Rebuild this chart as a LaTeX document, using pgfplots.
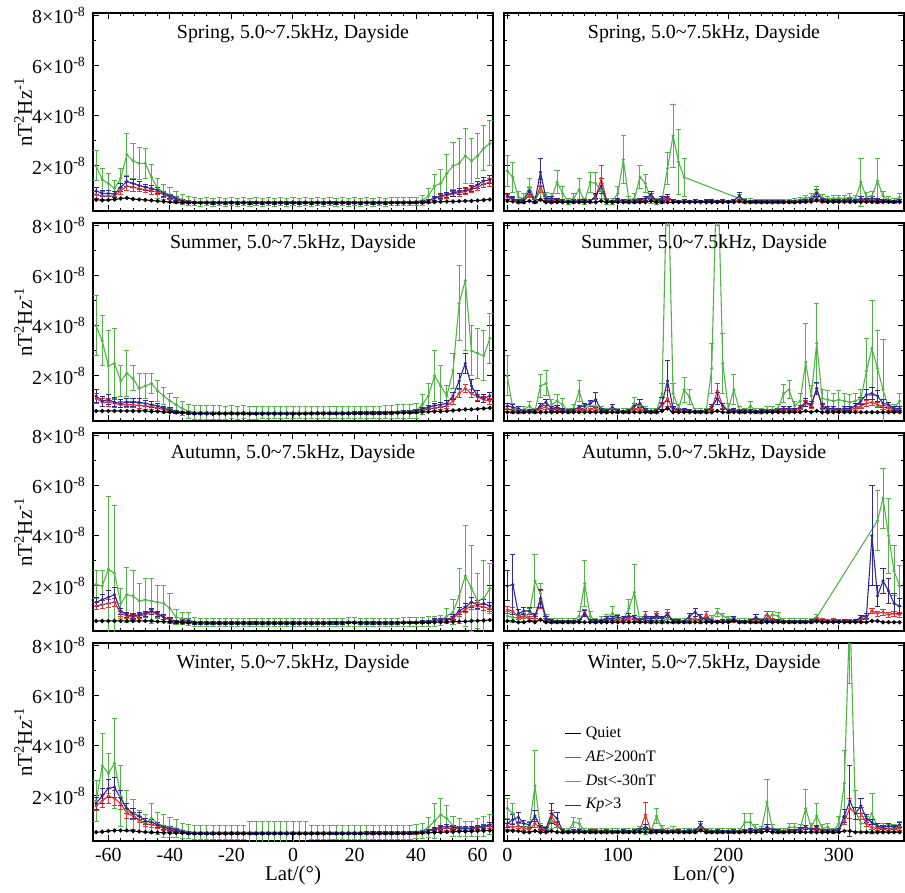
\documentclass[border=0pt]{standalone}
\usepackage{fontspec}
\setmainfont{Liberation Serif}
\usepackage{pgfplots}
\usepackage{pgfplotstable}
\pgfplotsset{compat=1.18}

\definecolor{cq}{RGB}{0,0,0}
\definecolor{ca}{RGB}{232,48,48}
\definecolor{cd}{RGB}{80,180,70}
\definecolor{ck}{RGB}{48,40,150}

% columns: x, Quiet, AE, Dst, Kp, err AE, err Dst, err Kp  (units of 1e-8 nT^2/Hz)
\pgfplotstableread{
x q a d k ea ed ek
-64 0.65 0.85 2.00 1.00 0.15 0.60 0.15
-62 0.63 0.80 1.45 0.90 0.12 0.45 0.12
-60 0.64 0.80 1.30 0.90 0.12 0.40 0.12
-58 0.66 0.80 1.10 0.88 0.12 0.30 0.12
-56 0.70 1.00 1.50 1.15 0.15 0.40 0.15
-54 0.72 1.20 2.45 1.38 0.18 0.85 0.18
-52 0.68 1.15 2.20 1.30 0.15 0.70 0.15
-50 0.66 1.10 2.10 1.22 0.12 0.65 0.14
-48 0.64 1.05 2.10 1.15 0.12 0.60 0.12
-46 0.62 1.00 1.55 1.10 0.12 0.50 0.12
-44 0.60 0.95 1.10 1.02 0.10 0.40 0.12
-42 0.58 0.85 0.95 0.90 0.10 0.30 0.10
-40 0.56 0.75 0.85 0.80 0.08 0.30 0.08
-38 0.55 0.65 0.75 0.70 0.07 0.25 0.07
-36 0.54 0.58 0.65 0.60 0.06 0.20 0.06
-34 0.53 0.55 0.60 0.56 0.05 0.17 0.05
-32 0.53 0.54 0.57 0.54 0.05 0.16 0.05
-30 0.52 0.54 0.56 0.54 0.05 0.16 0.05
-28 0.53 0.54 0.57 0.54 0.05 0.16 0.05
-26 0.52 0.53 0.56 0.53 0.05 0.16 0.05
-24 0.53 0.54 0.57 0.54 0.05 0.16 0.05
-22 0.52 0.53 0.56 0.53 0.05 0.16 0.05
-20 0.53 0.54 0.57 0.54 0.05 0.16 0.05
-18 0.52 0.53 0.56 0.53 0.05 0.16 0.05
-16 0.53 0.54 0.57 0.54 0.05 0.16 0.05
-14 0.52 0.53 0.56 0.53 0.05 0.16 0.05
-12 0.53 0.54 0.57 0.54 0.05 0.16 0.05
-10 0.52 0.53 0.56 0.53 0.05 0.16 0.05
-8 0.53 0.54 0.57 0.54 0.05 0.16 0.05
-6 0.52 0.53 0.56 0.53 0.05 0.16 0.05
-4 0.53 0.54 0.57 0.54 0.05 0.16 0.05
-2 0.52 0.53 0.56 0.53 0.05 0.16 0.05
0 0.53 0.54 0.57 0.54 0.05 0.16 0.05
2 0.52 0.53 0.56 0.53 0.05 0.16 0.05
4 0.53 0.54 0.57 0.54 0.05 0.16 0.05
6 0.52 0.53 0.56 0.53 0.05 0.16 0.05
8 0.53 0.54 0.57 0.54 0.05 0.16 0.05
10 0.52 0.53 0.56 0.53 0.05 0.16 0.05
12 0.53 0.54 0.57 0.54 0.05 0.16 0.05
14 0.52 0.53 0.56 0.53 0.05 0.16 0.05
16 0.53 0.54 0.57 0.54 0.05 0.16 0.05
18 0.52 0.53 0.56 0.53 0.05 0.16 0.05
20 0.53 0.54 0.57 0.54 0.05 0.16 0.05
22 0.52 0.53 0.56 0.53 0.05 0.16 0.05
24 0.53 0.54 0.57 0.54 0.05 0.16 0.05
26 0.52 0.53 0.56 0.53 0.05 0.16 0.05
28 0.53 0.54 0.57 0.54 0.05 0.16 0.05
30 0.52 0.53 0.56 0.53 0.05 0.16 0.05
32 0.53 0.54 0.57 0.54 0.05 0.16 0.05
34 0.53 0.54 0.57 0.54 0.05 0.16 0.05
36 0.53 0.54 0.57 0.54 0.05 0.16 0.05
38 0.53 0.55 0.58 0.55 0.05 0.16 0.05
40 0.54 0.55 0.58 0.55 0.05 0.16 0.05
42 0.54 0.56 0.62 0.57 0.05 0.20 0.06
44 0.55 0.60 0.80 0.62 0.06 0.30 0.06
46 0.56 0.70 1.20 0.72 0.08 0.45 0.08
48 0.57 0.78 1.30 0.80 0.10 0.55 0.10
50 0.58 0.82 1.70 0.86 0.10 0.75 0.10
52 0.58 0.88 2.00 0.92 0.10 0.95 0.12
54 0.59 0.92 2.10 0.98 0.12 1.00 0.12
56 0.60 0.98 2.40 1.02 0.12 1.10 0.12
58 0.60 1.05 2.20 1.10 0.12 0.90 0.12
60 0.62 1.15 2.40 1.25 0.12 0.90 0.14
62 0.64 1.28 2.70 1.40 0.14 0.90 0.14
64 0.66 1.35 2.90 1.45 0.15 0.90 0.15
}\SpL

\pgfplotstableread{
x q a d k ea ed ek
-64 0.60 1.10 4.00 1.20 0.20 1.20 0.25
-62 0.60 0.95 3.40 1.00 0.15 1.00 0.20
-60 0.60 0.95 2.40 1.05 0.15 1.40 0.20
-58 0.60 0.90 2.50 0.95 0.15 1.40 0.18
-56 0.60 0.85 1.80 0.90 0.12 0.60 0.15
-54 0.60 0.85 2.10 0.95 0.12 0.90 0.15
-52 0.60 0.85 1.90 0.95 0.12 0.50 0.15
-50 0.60 0.82 1.50 0.95 0.12 0.60 0.14
-48 0.60 0.80 1.60 0.90 0.12 0.50 0.12
-46 0.58 0.78 1.70 0.85 0.10 0.40 0.12
-44 0.58 0.72 1.40 0.80 0.10 0.40 0.10
-42 0.56 0.65 1.20 0.70 0.08 0.35 0.10
-40 0.55 0.60 1.00 0.65 0.07 0.30 0.08
-38 0.54 0.56 0.85 0.58 0.06 0.30 0.06
-36 0.53 0.54 0.70 0.55 0.05 0.28 0.05
-34 0.52 0.52 0.60 0.52 0.05 0.28 0.05
-32 0.50 0.51 0.55 0.51 0.05 0.28 0.05
-30 0.50 0.51 0.56 0.51 0.05 0.28 0.05
-28 0.50 0.51 0.55 0.51 0.05 0.28 0.05
-26 0.49 0.50 0.55 0.50 0.05 0.28 0.05
-24 0.50 0.51 0.55 0.51 0.05 0.28 0.05
-22 0.49 0.50 0.54 0.50 0.05 0.26 0.05
-20 0.50 0.51 0.55 0.51 0.05 0.26 0.05
-18 0.49 0.50 0.54 0.50 0.05 0.26 0.05
-16 0.50 0.51 0.55 0.51 0.05 0.26 0.05
-14 0.49 0.50 0.54 0.50 0.05 0.26 0.05
-12 0.49 0.50 0.54 0.50 0.05 0.26 0.05
-10 0.49 0.50 0.54 0.50 0.05 0.24 0.05
-8 0.49 0.50 0.54 0.50 0.05 0.24 0.05
-6 0.49 0.50 0.54 0.50 0.05 0.24 0.05
-4 0.49 0.50 0.54 0.50 0.05 0.24 0.05
-2 0.49 0.50 0.54 0.50 0.05 0.24 0.05
0 0.49 0.50 0.54 0.50 0.05 0.24 0.05
2 0.49 0.50 0.54 0.50 0.05 0.24 0.05
4 0.49 0.50 0.54 0.50 0.05 0.24 0.05
6 0.50 0.51 0.54 0.51 0.05 0.24 0.05
8 0.50 0.51 0.55 0.51 0.05 0.24 0.05
10 0.50 0.51 0.55 0.51 0.05 0.24 0.05
12 0.50 0.51 0.55 0.51 0.05 0.24 0.05
14 0.50 0.51 0.55 0.51 0.05 0.24 0.05
16 0.50 0.51 0.55 0.51 0.05 0.24 0.05
18 0.50 0.51 0.55 0.51 0.05 0.24 0.05
20 0.51 0.52 0.55 0.52 0.05 0.24 0.05
22 0.51 0.52 0.55 0.52 0.05 0.24 0.05
24 0.51 0.52 0.56 0.52 0.05 0.24 0.05
26 0.51 0.52 0.56 0.52 0.05 0.24 0.05
28 0.51 0.52 0.56 0.53 0.05 0.24 0.05
30 0.52 0.53 0.56 0.53 0.05 0.26 0.05
32 0.52 0.53 0.57 0.54 0.05 0.26 0.05
34 0.52 0.54 0.58 0.55 0.05 0.28 0.05
36 0.53 0.55 0.58 0.56 0.05 0.28 0.05
38 0.53 0.55 0.60 0.56 0.06 0.28 0.06
40 0.55 0.58 0.60 0.60 0.06 0.30 0.06
42 0.56 0.62 0.85 0.68 0.07 0.40 0.07
44 0.57 0.68 1.20 0.75 0.08 0.50 0.08
46 0.58 0.72 2.00 0.82 0.10 1.00 0.10
48 0.58 0.75 1.60 0.85 0.10 0.80 0.10
50 0.60 0.80 1.20 0.90 0.10 0.40 0.12
52 0.62 1.00 2.20 1.20 0.12 0.70 0.15
54 0.64 1.30 4.90 1.80 0.15 1.50 0.30
56 0.66 1.50 5.80 2.50 0.15 2.80 0.40
58 0.66 1.30 3.00 1.60 0.15 1.00 0.25
60 0.68 1.15 2.90 1.20 0.12 1.00 0.20
62 0.70 1.05 2.80 1.10 0.12 1.00 0.15
64 0.72 1.00 3.50 1.20 0.12 1.00 0.15
}\SuL

\pgfplotstableread{
x q a d k ea ed ek
-64 0.60 1.20 2.05 1.35 0.15 0.55 0.18
-62 0.60 1.25 2.00 1.45 0.15 0.60 0.20
-60 0.60 1.30 2.66 1.55 0.15 2.90 0.25
-58 0.60 1.35 2.50 1.65 0.15 2.70 0.30
-56 0.60 0.90 1.30 1.00 0.10 0.60 0.12
-54 0.60 0.80 1.65 0.85 0.10 1.10 0.10
-52 0.60 0.75 1.60 0.80 0.10 1.00 0.10
-50 0.60 0.80 1.40 0.85 0.10 0.70 0.10
-48 0.60 0.85 1.45 0.90 0.10 0.85 0.10
-46 0.60 0.95 1.40 1.00 0.10 0.90 0.12
-44 0.58 0.85 1.35 0.90 0.10 0.65 0.10
-42 0.57 0.75 1.30 0.75 0.08 0.70 0.10
-40 0.56 0.65 1.10 0.65 0.07 0.60 0.08
-38 0.55 0.58 0.75 0.58 0.06 0.30 0.06
-36 0.54 0.56 0.70 0.58 0.05 0.25 0.08
-34 0.53 0.54 0.68 0.62 0.05 0.25 0.10
-32 0.52 0.53 0.55 0.53 0.05 0.18 0.05
-30 0.52 0.52 0.55 0.52 0.05 0.17 0.05
-28 0.52 0.53 0.55 0.53 0.05 0.17 0.05
-26 0.51 0.52 0.54 0.52 0.05 0.17 0.05
-24 0.52 0.53 0.55 0.53 0.05 0.17 0.05
-22 0.51 0.52 0.54 0.52 0.05 0.17 0.05
-20 0.52 0.53 0.55 0.53 0.05 0.17 0.05
-18 0.51 0.52 0.54 0.52 0.05 0.17 0.05
-16 0.52 0.53 0.55 0.53 0.05 0.17 0.05
-14 0.51 0.52 0.54 0.52 0.05 0.17 0.05
-12 0.52 0.53 0.55 0.53 0.05 0.17 0.05
-10 0.51 0.52 0.54 0.52 0.05 0.17 0.05
-8 0.52 0.53 0.55 0.53 0.05 0.17 0.05
-6 0.51 0.52 0.54 0.52 0.05 0.17 0.05
-4 0.52 0.53 0.55 0.53 0.05 0.17 0.05
-2 0.51 0.52 0.54 0.52 0.05 0.17 0.05
0 0.52 0.53 0.55 0.53 0.05 0.17 0.05
2 0.51 0.52 0.54 0.52 0.05 0.17 0.05
4 0.52 0.53 0.55 0.53 0.05 0.17 0.05
6 0.51 0.52 0.54 0.52 0.05 0.17 0.05
8 0.52 0.53 0.55 0.53 0.05 0.17 0.05
10 0.51 0.52 0.54 0.52 0.05 0.17 0.05
12 0.52 0.53 0.55 0.53 0.05 0.17 0.05
14 0.52 0.53 0.55 0.53 0.05 0.17 0.05
16 0.52 0.53 0.55 0.53 0.05 0.17 0.05
18 0.53 0.54 0.56 0.55 0.05 0.17 0.05
20 0.53 0.54 0.56 0.55 0.05 0.17 0.05
22 0.52 0.53 0.55 0.53 0.05 0.17 0.05
24 0.52 0.53 0.55 0.53 0.05 0.17 0.05
26 0.52 0.53 0.55 0.53 0.05 0.17 0.05
28 0.52 0.53 0.55 0.53 0.05 0.17 0.05
30 0.52 0.53 0.55 0.53 0.05 0.17 0.05
32 0.52 0.53 0.55 0.53 0.05 0.17 0.05
34 0.52 0.53 0.55 0.53 0.05 0.17 0.05
36 0.53 0.54 0.56 0.54 0.05 0.17 0.05
38 0.53 0.54 0.56 0.54 0.05 0.18 0.05
40 0.53 0.55 0.57 0.55 0.05 0.18 0.05
42 0.54 0.56 0.57 0.56 0.05 0.18 0.05
44 0.54 0.58 0.58 0.57 0.05 0.20 0.05
46 0.55 0.62 0.60 0.62 0.06 0.20 0.07
48 0.55 0.64 0.62 0.65 0.06 0.20 0.07
50 0.56 0.64 0.80 0.64 0.06 0.30 0.07
52 0.57 0.70 0.95 0.75 0.08 0.50 0.10
54 0.58 0.90 1.60 1.00 0.10 1.10 0.15
56 0.58 1.05 2.40 1.15 0.12 2.00 0.15
58 0.60 1.20 1.90 1.35 0.12 1.70 0.20
60 0.61 1.20 1.40 1.25 0.12 1.10 0.15
62 0.62 1.15 1.50 1.30 0.12 1.50 0.15
64 0.64 1.10 1.90 1.20 0.12 1.00 0.15
}\AuL

\pgfplotstableread{
x q a d k ea ed ek
-64 0.55 1.60 1.80 1.70 0.20 0.80 0.25
-62 0.57 1.80 3.20 2.00 0.25 1.30 0.30
-60 0.60 2.00 2.90 2.30 0.30 0.80 0.35
-58 0.62 1.90 3.30 2.35 0.30 1.80 0.40
-56 0.62 1.70 2.00 1.90 0.25 1.20 0.30
-54 0.62 1.30 1.40 1.50 0.20 0.80 0.20
-52 0.60 1.20 1.25 1.30 0.15 0.60 0.18
-50 0.58 1.05 1.00 1.20 0.12 0.40 0.15
-48 0.56 0.90 0.90 1.00 0.10 0.35 0.12
-46 0.55 0.85 1.10 0.95 0.10 0.60 0.10
-44 0.54 0.80 0.90 0.85 0.08 0.45 0.10
-42 0.53 0.70 0.80 0.75 0.07 0.45 0.08
-40 0.52 0.65 0.75 0.70 0.06 0.40 0.07
-38 0.52 0.60 0.70 0.65 0.05 0.35 0.06
-36 0.52 0.55 0.62 0.58 0.05 0.30 0.05
-34 0.51 0.52 0.57 0.53 0.05 0.28 0.05
-32 0.50 0.51 0.55 0.51 0.05 0.28 0.05
-30 0.50 0.51 0.55 0.51 0.05 0.28 0.05
-28 0.50 0.51 0.55 0.51 0.05 0.28 0.05
-26 0.50 0.51 0.55 0.51 0.05 0.28 0.05
-24 0.50 0.51 0.55 0.51 0.05 0.28 0.05
-22 0.50 0.51 0.55 0.51 0.05 0.28 0.05
-20 0.50 0.51 0.56 0.51 0.05 0.28 0.05
-18 0.50 0.51 0.55 0.51 0.05 0.28 0.05
-16 0.50 0.51 0.55 0.51 0.05 0.28 0.05
-14 0.50 0.51 0.55 0.51 0.05 0.45 0.05
-12 0.50 0.51 0.55 0.51 0.05 0.45 0.05
-10 0.50 0.51 0.55 0.51 0.05 0.45 0.05
-8 0.50 0.51 0.55 0.51 0.05 0.45 0.05
-6 0.50 0.51 0.55 0.51 0.05 0.45 0.05
-4 0.50 0.51 0.55 0.51 0.05 0.45 0.05
-2 0.50 0.51 0.55 0.51 0.05 0.45 0.05
0 0.50 0.51 0.55 0.51 0.05 0.45 0.05
2 0.50 0.51 0.55 0.51 0.05 0.45 0.05
4 0.50 0.51 0.55 0.51 0.05 0.45 0.05
6 0.50 0.51 0.55 0.51 0.05 0.28 0.05
8 0.50 0.51 0.55 0.51 0.05 0.28 0.05
10 0.50 0.51 0.55 0.51 0.05 0.28 0.05
12 0.50 0.51 0.55 0.51 0.05 0.28 0.05
14 0.50 0.51 0.55 0.51 0.05 0.28 0.05
16 0.50 0.51 0.55 0.51 0.05 0.28 0.05
18 0.50 0.51 0.55 0.51 0.05 0.28 0.05
20 0.50 0.51 0.55 0.51 0.05 0.28 0.05
22 0.50 0.51 0.55 0.51 0.05 0.28 0.05
24 0.51 0.52 0.55 0.52 0.05 0.28 0.05
26 0.51 0.52 0.55 0.52 0.05 0.28 0.05
28 0.51 0.52 0.55 0.52 0.05 0.28 0.05
30 0.51 0.52 0.55 0.52 0.05 0.28 0.05
32 0.51 0.52 0.55 0.52 0.05 0.28 0.05
34 0.51 0.52 0.55 0.52 0.05 0.28 0.05
36 0.51 0.52 0.56 0.52 0.05 0.28 0.05
38 0.51 0.52 0.56 0.53 0.05 0.28 0.05
40 0.52 0.53 0.57 0.54 0.05 0.28 0.05
42 0.52 0.55 0.60 0.56 0.05 0.30 0.05
44 0.53 0.60 0.75 0.62 0.06 0.40 0.06
46 0.54 0.65 1.00 0.68 0.07 0.70 0.07
48 0.55 0.70 1.25 0.75 0.08 0.65 0.08
50 0.56 0.72 1.10 0.78 0.08 0.50 0.08
52 0.57 0.70 0.80 0.75 0.08 0.40 0.08
54 0.58 0.68 0.75 0.72 0.07 0.35 0.08
56 0.58 0.68 0.70 0.70 0.07 0.30 0.07
58 0.59 0.70 0.70 0.72 0.07 0.30 0.07
60 0.60 0.72 0.75 0.75 0.07 0.35 0.08
62 0.61 0.75 0.80 0.78 0.08 0.40 0.08
64 0.62 0.80 0.85 0.85 0.08 0.40 0.08
}\WiL

\pgfplotstableread{
x q a d k ea ed ek
0 0.60 0.75 1.80 0.80 0.10 0.60 0.12
5 0.58 0.65 1.55 0.70 0.08 0.60 0.10
10 0.55 0.60 0.75 0.60 0.05 0.25 0.06
15 0.55 0.60 0.70 0.65 0.05 0.20 0.06
20 0.60 0.85 1.15 1.00 0.12 0.35 0.15
25 0.55 0.60 0.65 0.60 0.05 0.15 0.06
30 0.65 1.20 1.00 1.75 0.25 0.35 0.55
35 0.55 0.65 0.75 0.70 0.06 0.20 0.08
40 0.55 0.65 0.70 0.70 0.06 0.20 0.08
45 0.55 0.60 1.35 0.65 0.05 0.45 0.06
50 0.55 0.60 0.90 0.60 0.05 0.30 0.06
55 0.55 0.58 0.60 0.58 0.05 0.12 0.05
60 0.55 0.60 0.70 0.60 0.05 0.20 0.05
65 0.55 0.60 1.05 0.60 0.05 0.45 0.06
70 0.55 0.58 0.60 0.60 0.05 0.12 0.05
75 0.55 0.60 1.35 0.60 0.05 0.40 0.06
80 0.55 0.75 1.30 0.80 0.10 0.45 0.10
85 0.60 1.50 1.00 1.20 0.50 0.30 0.30
90 0.55 0.60 0.60 0.60 0.05 0.12 0.05
95 0.55 0.58 0.60 0.58 0.05 0.12 0.05
100 0.55 0.60 0.90 0.65 0.05 0.30 0.06
105 0.55 0.60 2.25 0.60 0.05 0.95 0.06
110 0.55 0.58 0.65 0.60 0.05 0.15 0.05
115 0.55 0.60 0.70 0.60 0.05 0.20 0.05
120 0.55 0.60 1.55 0.65 0.05 0.45 0.06
125 0.55 0.65 1.30 0.70 0.06 0.35 0.08
130 0.60 0.80 0.65 0.85 0.12 0.15 0.15
135 0.55 0.60 0.60 0.60 0.05 0.12 0.05
140 0.55 0.65 0.65 0.70 0.06 0.15 0.08
145 0.55 0.70 1.90 0.75 0.08 0.65 0.10
150 0.55 0.60 3.20 0.60 0.05 1.25 0.06
155 0.55 0.58 2.15 0.58 0.05 1.30 0.05
160 0.55 0.60 1.55 0.60 0.05 0.75 0.05
165 0.55 0.58 nan 0.58 0.05 0 0.05
170 0.55 0.60 nan 0.60 0.05 0 0.05
175 0.55 0.58 nan 0.58 0.05 0 0.05
180 0.55 0.58 nan 0.60 0.05 0 0.05
185 0.55 0.60 nan 0.62 0.05 0 0.05
190 0.55 0.58 nan 0.58 0.05 0 0.05
195 0.55 0.58 nan 0.60 0.05 0 0.05
200 0.55 0.58 nan 0.58 0.05 0 0.05
205 0.55 0.60 nan 0.62 0.05 0 0.05
210 0.58 0.65 0.70 0.80 0.08 0.15 0.15
215 0.55 0.58 0.60 0.60 0.05 0.10 0.05
220 0.55 0.58 0.60 0.58 0.05 0.10 0.05
225 0.55 0.58 0.58 0.58 0.04 0.08 0.04
230 0.55 0.57 0.58 0.57 0.04 0.08 0.04
235 0.55 0.58 0.60 0.58 0.04 0.08 0.04
240 0.55 0.57 0.58 0.57 0.04 0.08 0.04
245 0.55 0.58 0.60 0.58 0.04 0.08 0.04
250 0.55 0.57 0.58 0.57 0.04 0.08 0.04
255 0.55 0.58 0.60 0.58 0.04 0.08 0.04
260 0.55 0.58 0.62 0.58 0.04 0.10 0.04
265 0.55 0.58 0.65 0.60 0.05 0.10 0.05
270 0.56 0.60 0.72 0.62 0.05 0.12 0.05
275 0.57 0.62 0.75 0.66 0.05 0.15 0.06
280 0.62 0.68 1.00 0.92 0.08 0.20 0.15
285 0.58 0.62 0.72 0.66 0.06 0.15 0.06
290 0.56 0.60 0.68 0.62 0.05 0.12 0.05
295 0.56 0.60 0.70 0.62 0.05 0.12 0.05
300 0.56 0.60 0.72 0.62 0.05 0.12 0.05
305 0.56 0.60 0.70 0.62 0.05 0.12 0.05
310 0.56 0.62 0.75 0.64 0.05 0.15 0.05
315 0.56 0.60 0.70 0.62 0.05 0.12 0.05
320 0.56 0.62 1.35 0.70 0.05 0.95 0.08
325 0.56 0.60 0.75 0.65 0.05 0.20 0.06
330 0.56 0.65 0.80 0.70 0.06 0.20 0.08
335 0.56 0.60 1.40 0.65 0.05 0.90 0.06
340 0.56 0.60 0.80 0.62 0.05 0.20 0.05
345 0.56 0.60 0.65 0.60 0.05 0.12 0.05
350 0.56 0.58 0.60 0.58 0.05 0.10 0.05
355 0.56 0.60 0.75 0.62 0.05 0.15 0.05
}\SpR

\pgfplotstableread{
x q a d k ea ed ek
0 0.55 0.70 2.00 0.80 0.10 0.80 0.12
5 0.55 0.60 0.70 0.75 0.05 0.20 0.10
10 0.55 0.60 0.65 0.70 0.05 0.15 0.08
15 0.55 0.60 0.65 0.60 0.05 0.15 0.05
20 0.55 0.60 0.80 0.60 0.05 0.20 0.05
25 0.55 0.60 0.60 0.60 0.05 0.10 0.05
30 0.55 0.70 1.60 0.80 0.08 0.45 0.10
35 0.55 0.75 1.70 0.95 0.08 0.50 0.12
40 0.55 0.65 0.85 0.70 0.06 0.20 0.08
45 0.55 0.65 1.00 0.75 0.06 0.25 0.08
50 0.55 0.60 0.85 0.65 0.05 0.25 0.06
55 0.55 0.60 0.60 0.60 0.05 0.10 0.05
60 0.55 0.60 0.70 0.65 0.05 0.15 0.05
65 0.55 0.65 1.40 0.75 0.06 0.40 0.08
70 0.55 0.60 0.70 0.80 0.05 0.15 0.10
75 0.55 0.65 0.80 0.90 0.06 0.20 0.12
80 0.55 0.70 0.80 1.05 0.08 0.20 0.30
85 0.55 0.60 0.65 0.65 0.05 0.12 0.06
90 0.55 0.58 0.60 0.60 0.05 0.10 0.05
95 0.55 0.60 0.70 0.75 0.05 0.15 0.10
100 0.55 0.58 0.60 0.60 0.05 0.10 0.05
105 0.55 0.58 0.60 0.58 0.05 0.10 0.05
110 0.55 0.60 0.60 0.60 0.05 0.10 0.05
115 0.55 0.65 0.90 0.80 0.06 0.25 0.12
120 0.55 0.70 0.80 0.90 0.08 0.25 0.15
125 0.55 0.60 0.65 0.65 0.05 0.12 0.06
130 0.55 0.58 0.60 0.58 0.05 0.10 0.05
135 0.55 0.60 0.60 0.60 0.05 0.10 0.05
140 0.60 0.80 1.30 0.90 0.15 0.40 0.25
145 0.70 1.10 11.0 1.80 0.30 3.00 0.80
150 0.55 0.65 1.30 0.70 0.08 0.40 0.10
155 0.55 0.60 0.70 0.65 0.05 0.15 0.06
160 0.55 0.60 1.45 0.65 0.05 0.50 0.06
165 0.55 0.60 1.15 0.60 0.05 0.30 0.05
170 0.55 0.58 0.60 0.58 0.05 0.10 0.05
175 0.55 0.58 0.60 0.58 0.05 0.10 0.05
180 0.55 0.60 0.60 0.60 0.05 0.10 0.05
185 0.55 0.70 2.30 0.75 0.08 1.00 0.10
190 0.60 1.40 11.0 1.10 0.30 3.00 0.25
195 0.55 0.80 2.50 0.80 0.10 1.20 0.12
200 0.55 0.60 0.70 0.60 0.05 0.20 0.05
205 0.55 0.60 1.45 0.65 0.05 0.60 0.06
210 0.55 0.58 0.65 0.60 0.05 0.15 0.05
215 0.55 0.58 0.60 0.60 0.05 0.10 0.05
220 0.55 0.60 0.80 0.60 0.05 0.20 0.05
225 0.55 0.58 0.60 0.58 0.05 0.10 0.05
230 0.55 0.60 0.60 0.60 0.05 0.10 0.05
235 0.55 0.58 0.65 0.60 0.05 0.12 0.05
240 0.55 0.60 0.65 0.60 0.05 0.12 0.05
245 0.55 0.60 0.70 0.65 0.05 0.15 0.06
250 0.55 0.65 1.30 0.70 0.06 0.35 0.08
255 0.55 0.65 1.45 0.70 0.06 0.35 0.08
260 0.55 0.60 0.80 0.65 0.05 0.20 0.06
265 0.55 0.65 1.00 0.75 0.06 0.30 0.08
270 0.60 0.90 2.55 0.95 0.12 1.55 0.15
275 0.55 0.80 1.20 0.85 0.10 0.40 0.12
280 0.60 1.50 3.30 1.50 0.25 1.60 0.25
285 0.55 0.75 1.10 0.80 0.10 0.35 0.10
290 0.55 0.65 1.05 0.70 0.06 0.35 0.08
295 0.55 0.65 1.00 0.70 0.06 0.30 0.08
300 0.55 0.60 1.05 0.65 0.05 0.35 0.06
305 0.55 0.65 1.00 0.70 0.06 0.30 0.08
310 0.55 0.65 0.95 0.70 0.06 0.30 0.08
315 0.55 0.70 1.00 0.80 0.08 0.30 0.10
320 0.55 0.80 1.10 1.00 0.10 0.35 0.15
325 0.55 0.90 2.20 1.25 0.12 1.30 0.20
330 0.55 0.95 3.10 1.30 0.12 1.90 0.25
335 0.55 0.85 2.30 1.20 0.10 1.50 0.20
340 0.55 0.75 1.45 0.90 0.08 2.00 0.15
345 0.55 0.70 0.75 0.85 0.08 0.20 0.10
350 0.55 0.65 0.70 0.70 0.06 0.15 0.08
355 0.55 0.65 1.00 0.70 0.06 0.30 0.08
}\SuR

\pgfplotstableread{
x q a d k ea ed ek
0 0.60 1.05 0.80 2.00 0.15 0.20 0.60
5 0.60 1.00 0.75 2.05 0.15 0.20 1.20
10 0.55 0.75 0.70 0.90 0.08 0.15 0.15
15 0.55 0.80 0.75 1.00 0.10 0.15 0.15
20 0.60 0.70 0.90 1.00 0.08 0.20 0.15
25 0.55 0.70 2.20 0.80 0.08 1.05 0.10
30 0.65 1.45 1.70 1.50 0.35 0.40 0.35
35 0.55 0.65 0.70 0.70 0.06 0.15 0.08
40 0.55 0.60 0.60 0.60 0.05 0.10 0.05
45 0.55 0.58 0.60 0.58 0.05 0.10 0.05
50 0.55 0.58 0.60 0.58 0.05 0.10 0.05
55 0.55 0.58 0.60 0.58 0.05 0.10 0.05
60 0.55 0.58 0.60 0.58 0.05 0.10 0.05
65 0.55 0.60 0.80 0.60 0.05 0.20 0.05
70 0.55 0.95 2.10 0.90 0.12 0.90 0.12
75 0.55 0.60 0.80 0.60 0.05 0.20 0.05
80 0.55 0.60 0.60 0.60 0.05 0.10 0.05
85 0.55 0.58 0.65 0.62 0.05 0.12 0.05
90 0.55 0.65 0.70 0.70 0.06 0.15 0.08
95 0.55 0.65 0.90 0.70 0.06 0.30 0.08
100 0.55 0.60 0.70 0.75 0.05 0.15 0.08
105 0.55 0.60 0.65 0.70 0.05 0.12 0.08
110 0.55 0.70 1.10 0.80 0.08 0.35 0.10
115 0.55 0.65 1.75 0.75 0.06 1.10 0.08
120 0.55 0.60 0.65 0.65 0.05 0.12 0.06
125 0.55 0.85 0.65 0.70 0.12 0.12 0.08
130 0.55 0.65 0.60 0.70 0.06 0.10 0.08
135 0.55 0.85 0.65 0.80 0.12 0.12 0.10
140 0.55 0.70 0.60 0.70 0.08 0.10 0.08
145 0.55 0.90 0.70 0.85 0.15 0.12 0.10
150 0.55 0.60 0.60 0.60 0.05 0.10 0.05
155 0.55 0.60 0.60 0.60 0.05 0.10 0.05
160 0.55 0.58 0.60 0.58 0.05 0.10 0.05
165 0.55 0.65 0.60 0.80 0.06 0.10 0.10
170 0.55 0.70 0.65 0.95 0.08 0.12 0.15
175 0.55 0.60 0.60 0.75 0.05 0.10 0.10
180 0.55 0.85 0.65 0.65 0.12 0.12 0.06
185 0.55 0.60 0.70 0.60 0.05 0.12 0.05
190 0.55 0.58 0.95 0.58 0.05 0.15 0.05
195 0.55 0.60 0.80 0.60 0.05 0.12 0.05
200 0.55 0.58 0.70 0.60 0.05 0.10 0.05
205 0.60 0.60 0.65 0.70 0.05 0.10 0.08
210 0.55 0.58 0.60 0.58 0.05 0.10 0.05
215 0.55 0.58 0.60 0.58 0.05 0.10 0.05
220 0.55 0.58 0.60 0.60 0.05 0.10 0.05
225 0.55 0.60 0.60 0.75 0.05 0.10 0.10
230 0.55 0.60 0.60 0.60 0.05 0.10 0.05
235 0.55 0.85 0.70 0.65 0.15 0.12 0.06
240 0.55 0.65 0.85 0.60 0.06 0.15 0.05
245 0.55 0.60 0.80 0.60 0.05 0.15 0.05
250 0.55 0.58 0.60 0.58 0.05 0.10 0.05
255 0.55 0.58 0.60 0.58 0.05 0.10 0.05
260 0.55 0.58 0.60 0.58 0.05 0.10 0.05
265 0.55 0.58 0.60 0.58 0.05 0.10 0.05
270 0.55 0.58 0.60 0.58 0.05 0.10 0.05
275 0.55 0.60 0.60 0.60 0.05 0.10 0.05
280 0.58 0.70 0.75 0.62 0.06 0.12 0.05
285 0.55 0.65 nan 0.60 0.05 0 0.05
290 0.55 0.62 nan 0.58 0.05 0 0.05
295 0.55 0.65 nan 0.60 0.05 0 0.05
300 0.55 0.60 nan 0.58 0.05 0 0.05
305 0.55 0.62 nan 0.60 0.05 0 0.05
310 0.55 0.60 nan 0.58 0.05 0 0.05
315 0.55 0.58 nan 0.62 0.05 0 0.05
320 0.55 0.65 nan 0.75 0.05 0 0.08
325 0.55 0.75 nan 0.80 0.08 0 0.10
330 0.60 1.00 nan 4.00 0.10 0 2.00
335 0.60 0.90 4.60 1.60 0.10 1.20 0.40
340 0.55 0.95 5.50 2.20 0.12 1.20 0.50
345 0.55 0.85 4.00 1.80 0.10 1.50 0.50
350 0.55 0.90 2.60 1.30 0.10 1.00 0.40
355 0.55 0.85 2.00 1.20 0.10 0.80 0.30
}\AuR

\pgfplotstableread{
x q a d k ea ed ek
0 0.60 0.80 1.50 0.90 0.12 0.40 0.15
5 0.60 0.75 1.30 1.05 0.10 0.40 0.20
10 0.60 0.80 0.80 1.15 0.10 0.20 0.20
15 0.55 0.70 0.75 0.90 0.08 0.15 0.12
20 0.55 0.65 0.80 0.85 0.06 0.20 0.10
25 0.60 0.90 2.40 1.20 0.15 1.40 0.20
30 0.55 0.70 0.75 0.75 0.08 0.15 0.08
35 0.55 0.60 0.65 0.70 0.05 0.12 0.06
40 0.60 1.20 1.00 1.30 0.20 0.30 0.40
45 0.55 0.85 0.80 1.10 0.10 0.20 0.25
50 0.55 0.60 0.60 0.60 0.05 0.10 0.05
55 0.55 0.58 0.60 0.58 0.05 0.10 0.05
60 0.55 0.60 0.95 0.60 0.05 0.20 0.05
65 0.55 0.60 0.90 0.60 0.05 0.20 0.05
70 0.55 0.58 0.60 0.58 0.05 0.10 0.05
75 0.55 0.58 0.62 0.60 0.05 0.10 0.05
80 0.55 0.60 0.60 0.58 0.05 0.10 0.05
85 0.55 0.58 0.60 0.58 0.05 0.10 0.05
90 0.55 0.58 0.62 0.60 0.05 0.10 0.05
95 0.55 0.58 0.60 0.58 0.05 0.10 0.05
100 0.55 0.58 0.60 0.58 0.05 0.10 0.05
105 0.55 0.58 0.60 0.60 0.05 0.10 0.05
110 0.55 0.58 0.60 0.58 0.05 0.10 0.05
115 0.55 0.60 0.62 0.60 0.05 0.10 0.05
120 0.55 0.65 0.65 0.65 0.05 0.12 0.06
125 0.55 1.25 0.60 0.75 0.50 0.12 0.10
130 0.55 0.60 0.60 0.60 0.05 0.10 0.05
135 0.55 0.60 1.20 0.62 0.05 0.30 0.05
140 0.55 0.58 0.70 0.60 0.05 0.12 0.05
145 0.55 0.58 0.60 0.58 0.05 0.10 0.05
150 0.55 0.60 0.65 0.58 0.05 0.12 0.05
155 0.55 0.58 0.60 0.60 0.05 0.10 0.05
160 0.55 0.58 0.60 0.58 0.05 0.10 0.05
165 0.55 0.58 0.62 0.60 0.05 0.10 0.05
170 0.55 0.60 0.60 0.62 0.05 0.10 0.05
175 0.62 0.70 0.75 0.85 0.08 0.15 0.12
180 0.55 0.60 0.60 0.60 0.05 0.10 0.05
185 0.55 0.58 0.60 0.58 0.05 0.10 0.05
190 0.55 0.58 0.62 0.60 0.05 0.10 0.05
195 0.55 0.58 0.60 0.58 0.05 0.10 0.05
200 0.55 0.58 0.60 0.58 0.05 0.10 0.05
205 0.55 0.58 0.62 0.60 0.05 0.10 0.05
210 0.55 0.58 0.60 0.58 0.05 0.10 0.05
215 0.55 0.60 0.95 0.62 0.05 0.35 0.05
220 0.55 0.65 0.95 0.65 0.06 0.35 0.06
225 0.55 0.60 0.70 0.60 0.05 0.15 0.05
230 0.55 0.62 0.65 0.65 0.05 0.12 0.06
235 0.60 0.75 1.75 0.75 0.10 0.90 0.10
240 0.55 0.65 0.70 0.65 0.06 0.15 0.06
245 0.55 0.60 0.60 0.60 0.05 0.10 0.05
250 0.55 0.58 0.60 0.58 0.05 0.10 0.05
255 0.55 0.60 0.75 0.60 0.05 0.15 0.05
260 0.55 0.60 0.75 0.60 0.05 0.15 0.05
265 0.55 0.65 0.70 0.70 0.06 0.15 0.06
270 0.55 0.75 1.50 0.75 0.08 0.75 0.08
275 0.55 0.65 0.75 0.65 0.06 0.15 0.06
280 0.55 0.70 1.20 0.75 0.08 0.50 0.08
285 0.55 0.60 0.70 0.60 0.05 0.15 0.05
290 0.55 0.60 0.75 0.60 0.05 0.15 0.05
295 0.55 0.60 0.60 0.60 0.05 0.10 0.05
300 0.55 0.65 0.90 0.65 0.06 0.30 0.06
305 0.60 1.00 2.50 1.20 0.15 1.30 0.25
310 0.60 1.50 9.50 1.80 0.40 3.00 1.40
315 0.55 1.30 1.40 1.30 0.25 0.80 0.25
320 0.55 1.30 0.90 1.60 0.25 0.30 0.30
325 0.55 0.90 0.90 1.10 0.12 0.30 0.15
330 0.55 0.75 1.30 0.95 0.10 0.80 0.10
335 0.55 0.70 0.75 0.80 0.08 0.15 0.10
340 0.55 0.65 0.75 0.75 0.06 0.15 0.08
345 0.55 0.70 0.70 0.80 0.08 0.15 0.10
350 0.55 0.65 0.70 0.75 0.06 0.15 0.08
355 0.55 0.70 0.80 0.85 0.08 0.20 0.10
}\WiR

\pgfplotsset{
  panel/.style={scale only axis, width=200bp, height=99bp,
    ymin=0.2, ymax=8.1, ytick={2,4,6,8}, minor y tick num=1,
    tick align=inside, major tick length=3bp, minor tick length=1.6bp,
    tick style={black, line width=0.5pt}, axis line style={line width=0.7pt},
    tick label style={font=\fontsize{10}{12}\selectfont},
    label style={font=\fontsize{10.5}{12}\selectfont},
    xticklabels={}, yticklabels={}},
  lat/.style={panel, xmin=-65, xmax=65, xtick={-60,-40,-20,0,20,40,60}, minor x tick num=4},
  lon/.style={panel, xmin=-3, xmax=359, xtick={0,100,200,300}, minor x tick num=9},
  yl/.style={yticklabels={2×10\textsuperscript{-8},4×10\textsuperscript{-8},6×10\textsuperscript{-8},8×10\textsuperscript{-8}},
    ylabel={nT\textsuperscript{2}Hz\textsuperscript{-1}},
    ylabel style={at={(rel axis cs:-0.175,0.5)}, anchor=center}},
  xlat/.style={xticklabels={-60,-40,-20,0,20,40,60}, xlabel={Lat/(°)},
    xlabel style={at={(rel axis cs:0.5,-0.175)}, anchor=center}},
  xlon/.style={xticklabels={0,100,200,300}, xlabel={Lon/(°)},
    xlabel style={at={(rel axis cs:0.5,-0.175)}, anchor=center}},
  % cheap error bars in the series colour: one path per bar end, with a short cap
  ser/.style={#1, line width=0.55pt, mark=*, mark size=0.5pt, forget plot,
    error bars/y dir=both, error bars/y explicit,
    error bars/error mark=none,
    error bars/draw error bar/.code 2 args={\draw[draw=#1, line width=0.45pt] ##1 -- ##2 ++(-1.3pt,0pt) -- ++(2.6pt,0pt);}},
  legline/.style={legend image code/.code={\draw[draw=#1, line width=0.7pt] (0bp,0bp) -- (8bp,0bp);}},
}

\newcommand\series[1]{%
  \addplot[ser=cd] table[x=x, y=d, y error=ed]{#1};
  \addplot[ser=ca] table[x=x, y=a, y error=ea]{#1};
  \addplot[ser=ck] table[x=x, y=k, y error=ek]{#1};
  \addplot[cq, line width=0.5pt, mark=*, mark size=0.8pt, forget plot] table[x=x, y=q]{#1};
}
\newcommand\ptitle[1]{\node[font=\fontsize{10}{12}\selectfont] at (rel axis cs:0.5,0.895) {#1, 5.0\textasciitilde 7.5kHz, Dayside};}

\begin{document}
\begin{tikzpicture}
\useasboundingbox (0,0) rectangle (452.5bp,-446.5bp);

\begin{axis}[lat, yl, at={(46.5bp,-6.5bp)}, anchor=north west]
\series{\SpL}
\ptitle{Spring}
\end{axis}
\begin{axis}[lon, at={(252bp,-6.5bp)}, anchor=north west]
\series{\SpR}
\ptitle{Spring}
\end{axis}

\begin{axis}[lat, yl, at={(46.5bp,-111.5bp)}, anchor=north west]
\series{\SuL}
\ptitle{Summer}
\end{axis}
\begin{axis}[lon, at={(252bp,-111.5bp)}, anchor=north west]
\series{\SuR}
\ptitle{Summer}
\end{axis}

\begin{axis}[lat, yl, at={(46.5bp,-216.5bp)}, anchor=north west]
\series{\AuL}
\ptitle{Autumn}
\end{axis}
\begin{axis}[lon, at={(252bp,-216.5bp)}, anchor=north west]
\series{\AuR}
\ptitle{Autumn}
\end{axis}

\begin{axis}[lat, yl, xlat, at={(46.5bp,-321.5bp)}, anchor=north west]
\series{\WiL}
\ptitle{Winter}
\end{axis}
\begin{axis}[lon, xlon, at={(252bp,-321.5bp)}, anchor=north west,
  legend style={at={(rel axis cs:0.15,0.6)}, anchor=north west, draw=none, fill=none,
    font=\fontsize{8}{9}\selectfont, row sep=1.2bp, inner sep=0pt},
  legend cell align=left]
\series{\WiR}
\ptitle{Winter}
\addlegendimage{legline=cq}
\addlegendentry{Quiet}
\addlegendimage{legline=ca}
\addlegendentry{\textit{AE}>200nT}
\addlegendimage{legline=cd}
\addlegendentry{\textit{D}st<-30nT}
\addlegendimage{legline=ck}
\addlegendentry{\textit{Kp}>3}
\end{axis}
\end{tikzpicture}
\end{document}
